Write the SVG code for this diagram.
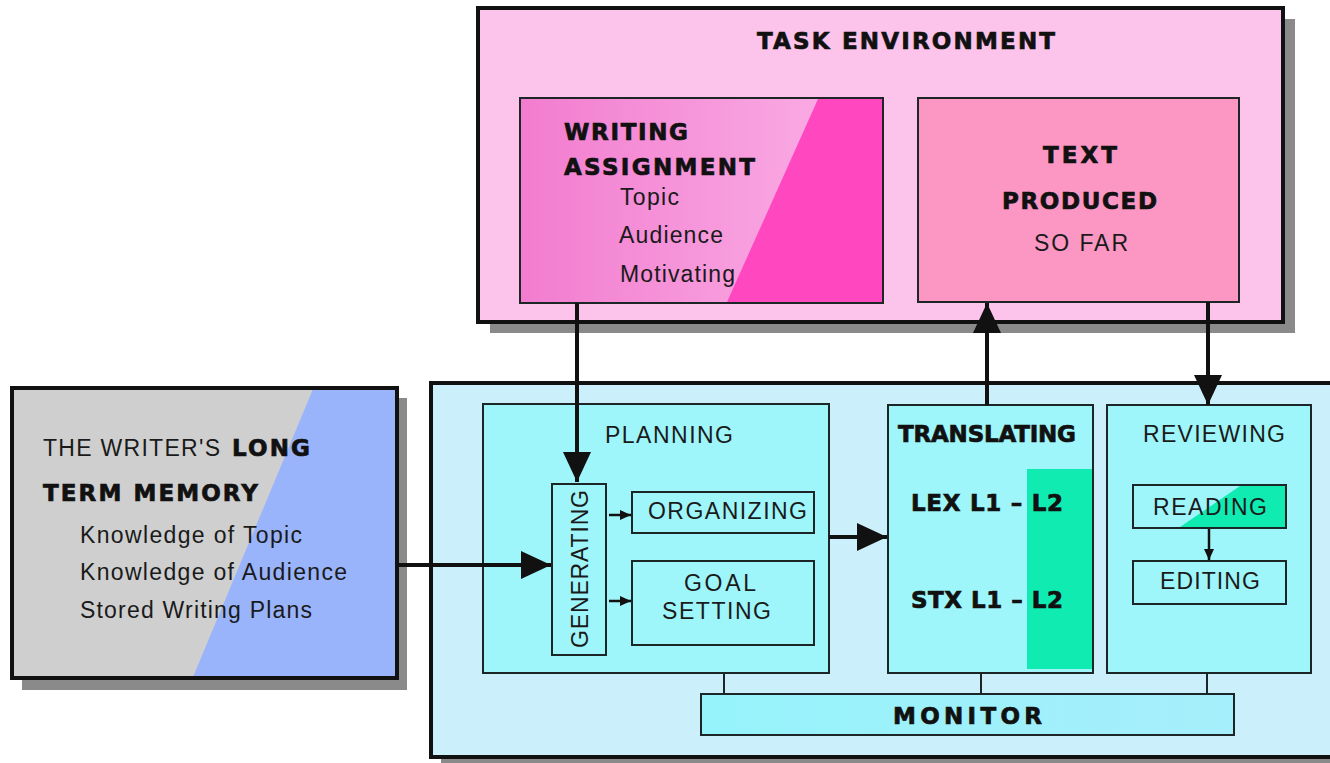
<svg xmlns="http://www.w3.org/2000/svg" width="1330" height="763" viewBox="0 0 1330 763">
<style>
.reg{font-family:"Liberation Sans",Arial,sans-serif;font-size:23px;fill:#1a1a1a}
.bold{font-family:"DejaVu Sans","Liberation Sans",sans-serif;font-weight:bold;font-size:23px;fill:#111;stroke:#111;stroke-width:0.7}
.outer{stroke:#111;stroke-width:4}
.inner{stroke:#1c2626;stroke-width:2}
.shadow{fill:#8a8a8a}
.conn{stroke:#111;stroke-width:4;fill:none}
.thin{stroke:#1c2626;stroke-width:2;fill:none}
.thin2{stroke:#111;stroke-width:2.5;fill:none}
</style>
<defs>
<marker id="big" markerUnits="userSpaceOnUse" markerWidth="32" markerHeight="28" refX="30" refY="14" orient="auto">
<path d="M0,0 L30,14 L0,28 z" fill="#111"/>
</marker>
<marker id="small" markerUnits="userSpaceOnUse" markerWidth="12" markerHeight="10" refX="11" refY="5" orient="auto">
<path d="M0,0 L11,5 L0,10 z" fill="#111"/>
</marker>
<linearGradient id="waGrad" x1="0" y1="0" x2="1" y2="0">
<stop offset="0" stop-color="#f27ccf"/>
<stop offset="1" stop-color="#fbb3e7"/>
</linearGradient>
<linearGradient id="monGrad" x1="0" y1="0" x2="1" y2="0">
<stop offset="0" stop-color="#96f3fb"/>
<stop offset="1" stop-color="#a6eefb"/>
</linearGradient>
</defs>

<rect width="1330" height="763" fill="#ffffff"/>

<g id="task-environment">
<rect class="shadow" x="490" y="19" width="805" height="314"/>
<rect class="outer" x="478" y="8" width="805" height="314" fill="#fcc4ea"/>
<text class="bold" x="757" y="49" textLength="298">TASK ENVIRONMENT</text>
</g>

<g id="writing-assignment">
<rect x="520" y="98" width="363" height="205" fill="url(#waGrad)"/>
<polygon points="818,99 882,99 882,302 727,302" fill="#ff48c0"/>
<rect class="inner" x="520" y="98" width="363" height="205" fill="none"/>
<text class="bold" x="564" y="140" textLength="124">WRITING</text>
<text class="bold" x="564" y="175" textLength="191">ASSIGNMENT</text>
<text class="reg" x="620" y="205" textLength="59">Topic</text>
<text class="reg" x="619" y="243" textLength="104">Audience</text>
<text class="reg" x="620" y="282" textLength="115">Motivating</text>
</g>

<g id="text-produced">
<rect class="inner" x="918" y="98" width="321" height="204" fill="#fc97c4"/>
<text class="bold" x="1043" y="163" textLength="74">TEXT</text>
<text class="bold" x="1002" y="209" textLength="155">PRODUCED</text>
<text class="reg" x="1034" y="251" textLength="94">SO FAR</text>
</g>

<g id="long-term-memory">
<rect class="shadow" x="22" y="398" width="385" height="292"/>
<rect x="12" y="388" width="385" height="290" fill="#cfcfcf"/>
<polygon points="313,389 395,389 395,677 193,677" fill="#99b4fb"/>
<rect class="outer" x="12" y="388" width="385" height="290" fill="none"/>
<text class="reg" x="43" y="456" textLength="177">THE WRITER'S</text>
<text class="bold" x="232" y="456" textLength="78">LONG</text>
<text class="bold" x="43" y="501" textLength="215">TERM MEMORY</text>
<text class="reg" x="80" y="543" textLength="222">Knowledge of Topic</text>
<text class="reg" x="80" y="580" textLength="267">Knowledge of Audience</text>
<text class="reg" x="80" y="618" textLength="232">Stored Writing Plans</text>
</g>

<g id="writer-process">
<rect class="shadow" x="441" y="393" width="920" height="374"/>
<rect class="outer" x="431" y="383" width="920" height="374" fill="#ccf0fb"/>
</g>

<g id="planning">
<rect class="inner" x="483" y="404" width="346" height="269" fill="#9ef6fa"/>
<text class="reg" x="605" y="443" textLength="128">PLANNING</text>
</g>

<g id="generating">
<rect class="inner" x="552" y="484" width="54" height="171" fill="#9ef6fa"/>
<text class="reg" transform="translate(588,569) rotate(-90)" x="0" y="0" text-anchor="middle" textLength="158">GENERATING</text>
</g>

<g id="organizing">
<rect class="inner" x="632" y="492" width="182" height="41" fill="#9ef6fa"/>
<text class="reg" x="648" y="519" textLength="159">ORGANIZING</text>
</g>

<g id="goal-setting">
<rect class="inner" x="632" y="561" width="182" height="84" fill="#9ef6fa"/>
<text class="reg" x="684" y="591" textLength="72">GOAL</text>
<text class="reg" x="662" y="619" textLength="109">SETTING</text>
</g>

<g id="translating">
<rect x="888" y="405" width="205" height="268" fill="#9ef6fa"/>
<rect x="1027" y="469" width="65" height="200" fill="#10ebb2"/>
<rect class="inner" x="888" y="405" width="205" height="268" fill="none"/>
<text class="bold" x="898" y="442" textLength="178" font-size="21">TRANSLATING</text>
<text class="bold" x="911" y="511" textLength="152">LEX L1 – L2</text>
<text class="bold" x="911" y="608" textLength="152">STX L1 – L2</text>
</g>

<g id="reviewing">
<rect class="inner" x="1107" y="405" width="204" height="268" fill="#9ef6fa"/>
<text class="reg" x="1143" y="442" textLength="142">REVIEWING</text>
</g>

<g id="reading">
<rect x="1133" y="485" width="153" height="43" fill="#9ef6fa"/>
<polygon points="1240,486 1285,486 1285,527 1180,527" fill="#10ebb2"/>
<rect class="inner" x="1133" y="485" width="153" height="43" fill="none"/>
<text class="reg" x="1153" y="515" textLength="114">READING</text>
</g>

<g id="editing">
<rect class="inner" x="1133" y="561" width="153" height="43" fill="#9ef6fa"/>
<text class="reg" x="1160" y="589" textLength="100">EDITING</text>
</g>

<g id="monitor">
<rect class="inner" x="701" y="694" width="533" height="41" fill="url(#monGrad)"/>
<text class="bold" x="893" y="724" textLength="149">MONITOR</text>
</g>

<g id="connectors">
<line class="conn" x1="577" y1="303" x2="577" y2="482" marker-end="url(#big)"/>
<line class="conn" x1="397" y1="565" x2="551" y2="565" marker-end="url(#big)"/>
<line class="conn" x1="829" y1="537" x2="887" y2="537" marker-end="url(#big)"/>
<line class="conn" x1="987" y1="405" x2="987" y2="303" marker-end="url(#big)"/>
<line class="conn" x1="1208" y1="302" x2="1208" y2="405" marker-end="url(#big)"/>
<line class="thin2" x1="609" y1="515" x2="631" y2="515" marker-end="url(#small)"/>
<line class="thin2" x1="609" y1="601" x2="631" y2="601" marker-end="url(#small)"/>
<line class="thin2" x1="1209" y1="529" x2="1209" y2="560" marker-end="url(#small)"/>
<line class="thin" x1="724" y1="673" x2="724" y2="694"/>
<line class="thin" x1="981" y1="673" x2="981" y2="694"/>
<line class="thin" x1="1207" y1="673" x2="1207" y2="694"/>
</g>
</svg>
